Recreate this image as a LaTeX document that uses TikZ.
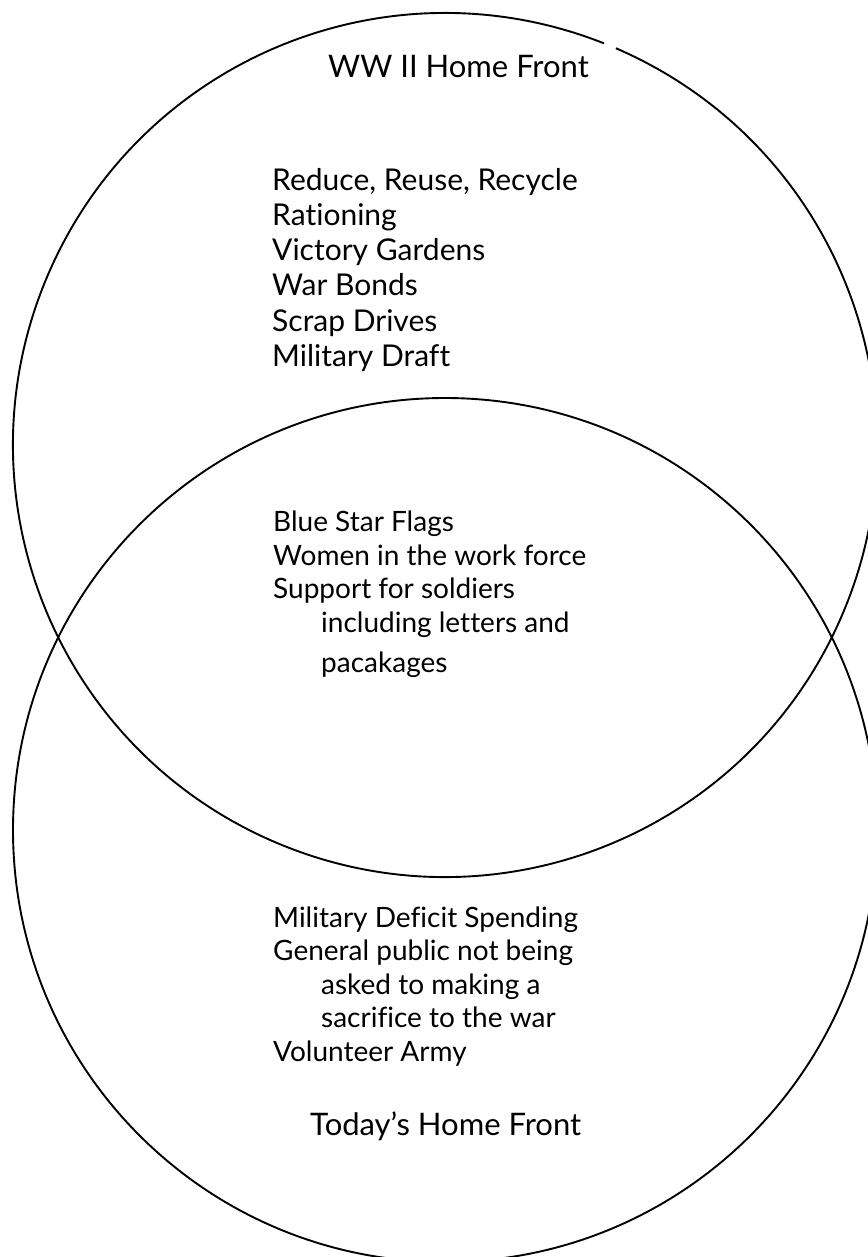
\documentclass[tikz,border=0pt]{standalone}
\usepackage{fontspec}
\setmainfont{Lato}[Ligatures={NoCommon,NoDiscretionary}]
\begin{document}
\begin{tikzpicture}[x=1pt,y=-1pt,
  ring/.style={line width=1.9pt,black},
  title/.style={anchor=base west,inner sep=0pt,font=\fontsize{31}{34}\selectfont},
  biglist/.style={anchor=base west,inner sep=0pt,align=left,font=\fontsize{30}{35.3}\selectfont},
  smalllist/.style={anchor=base west,inner sep=0pt,align=left,font=\fontsize{28}{33.5}\selectfont}]
\useasboundingbox (0,0) rectangle (867,1257);
\coordinate (c1) at (445,445);
\coordinate (c2) at (445,830);
% top circle with a small gap near its top right (y axis points down)
\draw[ring] (c1) ++(-66.7:432) arc[start angle=-66.7,end angle=291.6,radius=432];
\draw[ring] (c2) circle[radius=432];
\node[title] (t1) at (328,78) {WW II Home Front};
\node[biglist] (l1) at (272,366.5) {Reduce, Reuse, Recycle\\Rationing\\Victory Gardens\\War Bonds\\Scrap Drives\\Military Draft};
\node[smalllist] (l2) at (273,672.5) {Blue Star Flags\\Women in the work force\\Support for soldiers\\\hspace*{48pt}including letters and\\[7pt]\hspace*{48pt}pacakages};
\node[smalllist] (l3) at (273,1061) {Military Deficit Spending\\General public not being\\\hspace*{48pt}asked to making a\\\hspace*{48pt}sacrifice to the war\\Volunteer Army};
\node[title] (t2) at (310,1135) {Today’s Home Front};
\end{tikzpicture}
\end{document}
